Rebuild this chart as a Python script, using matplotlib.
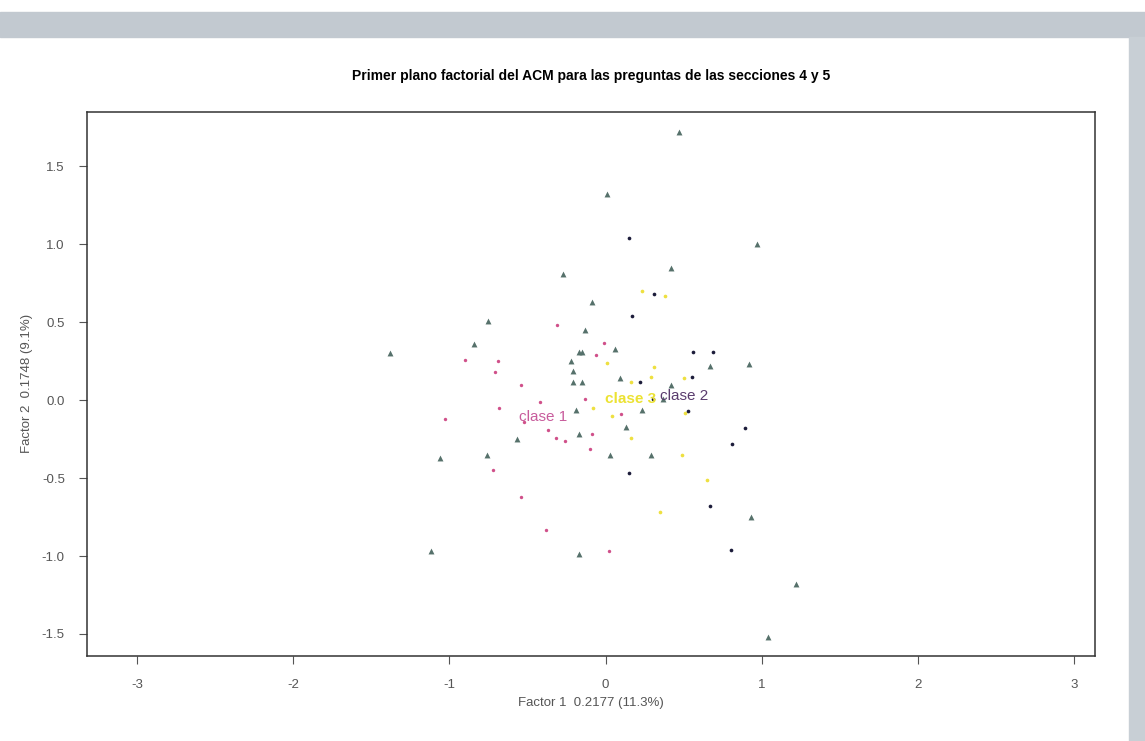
import matplotlib.pyplot as plt
from matplotlib.patches import Rectangle

tri_x = [0.47, 0.01, 0.97, -0.27, 0.42, -0.09, -0.75, -0.13, -0.84, -0.17, -0.15, 0.06,
         -1.38, -0.22, 0.67, 0.92, -0.21, -0.21, -0.15, 0.09, 0.42, 0.37, -0.19, 0.23,
         0.13, -0.17, -0.57, -1.06, -0.76, 0.03, 0.29, 0.93, -1.12, -0.17, 1.22, 1.04]
tri_y = [1.72, 1.32, 1.00, 0.81, 0.85, 0.63, 0.51, 0.45, 0.36, 0.31, 0.31, 0.33,
         0.30, 0.25, 0.22, 0.23, 0.19, 0.12, 0.12, 0.14, 0.10, 0.01, -0.06, -0.06,
         -0.17, -0.22, -0.25, -0.37, -0.35, -0.35, -0.35, -0.75, -0.97, -0.99, -1.18, -1.52]

c1_x = [-0.31, -0.01, -0.06, -0.90, -0.69, -0.71, -0.54, -0.42, -0.13, -0.68, 0.10,
        -1.03, -0.52, -0.37, -0.32, -0.26, -0.09, -0.10, -0.72, -0.54, -0.38, 0.02]
c1_y = [0.48, 0.37, 0.29, 0.26, 0.25, 0.18, 0.10, -0.01, 0.01, -0.05, -0.09,
        -0.12, -0.14, -0.19, -0.24, -0.26, -0.22, -0.31, -0.45, -0.62, -0.83, -0.97]

c3_x = [0.23, 0.38, 0.01, 0.31, 0.29, 0.50, 0.16, -0.08, 0.04, 0.51, 0.16, 0.49, 0.65, 0.35]
c3_y = [0.70, 0.67, 0.24, 0.21, 0.15, 0.14, 0.12, -0.05, -0.10, -0.08, -0.24, -0.35, -0.51, -0.72]

c2_x = [0.15, 0.31, 0.17, 0.56, 0.69, 0.55, 0.22, 0.30, 0.53, 0.89, 0.81, 0.15, 0.67, 0.80]
c2_y = [1.04, 0.68, 0.54, 0.31, 0.31, 0.15, 0.12, 0.01, -0.07, -0.18, -0.28, -0.47, -0.68, -0.96]

clases = ['clase 1', 'clase 3', 'clase 2']
clase_x = [-0.40, 0.16, 0.50]
clase_y = [-0.11, 0.01, 0.03]
clase_col = ['#c85c9c', '#ece232', '#5a3c6e']

x_ticks = [-3, -2, -1, 0, 1, 2, 3]
y_ticks = [-1.5, -1.0, -0.5, 0.0, 0.5, 1.0, 1.5]

plt.rcParams['font.family'] = ['Liberation Sans', 'DejaVu Sans']

fig = plt.figure(figsize=(11.45, 7.41), dpi=100)
ax = fig.add_axes([0.076, 0.115, 0.880, 0.734])

# franja gris del escaneo
fig.patches.append(Rectangle((0, 0.950), 1, 0.034, transform=fig.transFigure,
                             color='#c2c9d0', zorder=0))
fig.patches.append(Rectangle((0.986, 0), 0.014, 0.950, transform=fig.transFigure,
                             color='#c8cfd5', zorder=0))

ax.scatter(tri_x, tri_y, marker='^', s=18, color='#56716b', linewidths=0)
ax.scatter(c1_x, c1_y, marker='o', s=6, color='#d0508a', linewidths=0)
ax.scatter(c3_x, c3_y, marker='o', s=7, color='#eee040', linewidths=0)
ax.scatter(c2_x, c2_y, marker='o', s=7, color='#1c1c3a', linewidths=0)

for lab, x, y, col in zip(clases, clase_x, clase_y, clase_col):
    ax.text(x, y, lab, color=col, fontsize=11, ha='center', va='center',
            fontweight='bold' if lab == 'clase 3' else 'normal')

ax.set_xlim(-3.32, 3.13)
ax.set_ylim(-1.64, 1.85)
ax.set_xticks(x_ticks)
ax.set_xticklabels([str(t) for t in x_ticks])
ax.set_yticks(y_ticks)
ax.set_yticklabels([f'{t:.1f}' for t in y_ticks])
ax.tick_params(direction='out', length=6, width=0.8, colors='#555555', labelsize=9.5)
ax.tick_params(axis='x', pad=11)
ax.tick_params(axis='y', pad=10)

for sp in ax.spines.values():
    sp.set_color('#333333')
    sp.set_linewidth(1.1)

ax.set_title('Primer plano factorial del ACM para las preguntas de las secciones 4 y 5',
             fontsize=10, fontweight='bold', pad=23)
ax.set_xlabel('Factor 1  0.2177 (11.3%)', fontsize=9.5, color='#555555', labelpad=4)
ax.set_ylabel('Factor 2  0.1748 (9.1%)', fontsize=9.5, color='#555555', labelpad=6)

fig.savefig('out.png', dpi=100, facecolor='white')
